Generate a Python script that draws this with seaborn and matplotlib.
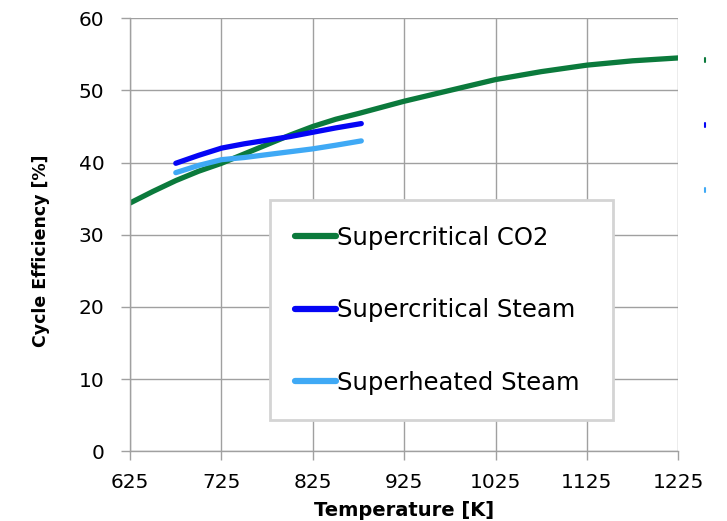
import matplotlib
matplotlib.use("Agg")
import matplotlib.pyplot as plt
from matplotlib.lines import Line2D
import seaborn as sns
import pandas as pd

# Data
co2_T = [625, 650, 675, 700, 725, 750, 775, 800, 825, 850, 875, 925, 975, 1025, 1075, 1125, 1175, 1225]
co2_eff = [34.4, 36.0, 37.5, 38.8, 39.9, 41.2, 42.5, 43.8, 45.0, 46.0, 46.8, 48.5, 50.0, 51.5, 52.6, 53.5, 54.1, 54.5]
scs_T = [675, 700, 725, 750, 775, 800, 825, 850, 878]
scs_eff = [39.9, 41.0, 42.0, 42.6, 43.1, 43.6, 44.2, 44.8, 45.4]
shs_T = [675, 700, 725, 750, 775, 800, 825, 850, 878]
shs_eff = [38.6, 39.6, 40.4, 40.7, 41.1, 41.5, 41.9, 42.4, 43.0]
series_names = ["Supercritical CO2", "Supercritical Steam", "Superheated Steam"]
series_colors = ["#0b7a3c", "#0505f5", "#3fa9f5"]
x_ticks = [625, 725, 825, 925, 1025, 1125, 1225]
y_ticks = [0, 10, 20, 30, 40, 50, 60]

df = pd.concat([
    pd.DataFrame({"T": co2_T, "eff": co2_eff, "series": series_names[0]}),
    pd.DataFrame({"T": scs_T, "eff": scs_eff, "series": series_names[1]}),
    pd.DataFrame({"T": shs_T, "eff": shs_eff, "series": series_names[2]}),
])

sns.set_theme(style="white")
plt.rcParams["font.family"] = ["DejaVu Sans"]
plt.rcParams["text.color"] = "black"

fig = plt.figure(figsize=(7.27, 5.21), dpi=100)
ax = fig.add_axes([0.179, 0.134, 0.754, 0.831])

sns.lineplot(data=df, x="T", y="eff", hue="series", palette=dict(zip(series_names, series_colors)),
             linewidth=3.8, ax=ax, sort=False, estimator=None, solid_capstyle="round")

ax.set_xlim(625, 1225)
ax.set_ylim(0, 60)
ax.set_xticks(x_ticks)
ax.set_yticks(y_ticks)
ax.grid(True, color="#a0a0a0", linewidth=1.0)
ax.set_axisbelow(True)
for s in ["top", "right"]:
    ax.spines[s].set_visible(False)
for s in ["left", "bottom"]:
    ax.spines[s].set_color("#a0a0a0")
    ax.spines[s].set_linewidth(1.0)
ax.tick_params(axis="both", which="both", direction="out", length=6.5, width=1.0,
               color="#a0a0a0", labelsize=14.5, labelcolor="black", pad=12,
               left=True, bottom=True)
ax.tick_params(axis="x", pad=9)
ax.set_xlabel("Temperature [K]", fontsize=14, fontweight="bold", labelpad=7, color="black")
ax.set_ylabel("Cycle Efficiency [%]", fontsize=12.5, fontweight="bold", color="black")
ax.yaxis.set_label_coords(-0.146, 0.464)

handles = [Line2D([], [], color=c, linewidth=4.5, solid_capstyle="round") for c in series_colors]
leg = ax.legend(handles, series_names, loc="upper left", bbox_to_anchor=(0.255, 0.58, 0.626, 0.0),
                mode="expand", handlelength=1.65, handletextpad=0.05,
                labelspacing=2.0, borderpad=1.05, borderaxespad=0, frameon=True,
                fancybox=False, prop={"family": ["DejaVu Sans"], "size": 17.5})
for t in leg.get_texts():
    t.set_color("black")
leg.get_frame().set_edgecolor("#d4d4d4")
leg.get_frame().set_linewidth(2.0)
leg.get_frame().set_facecolor("white")
leg.get_frame().set_alpha(1.0)

# small clipped legend marks at right edge of the reference image
for yy, c in zip([0.881, 0.756, 0.631], series_colors):
    fig.add_artist(Line2D([0.9695, 0.9695], [yy, yy + 0.008], color=c, linewidth=1.5))

fig.savefig("out.png", dpi=100)
